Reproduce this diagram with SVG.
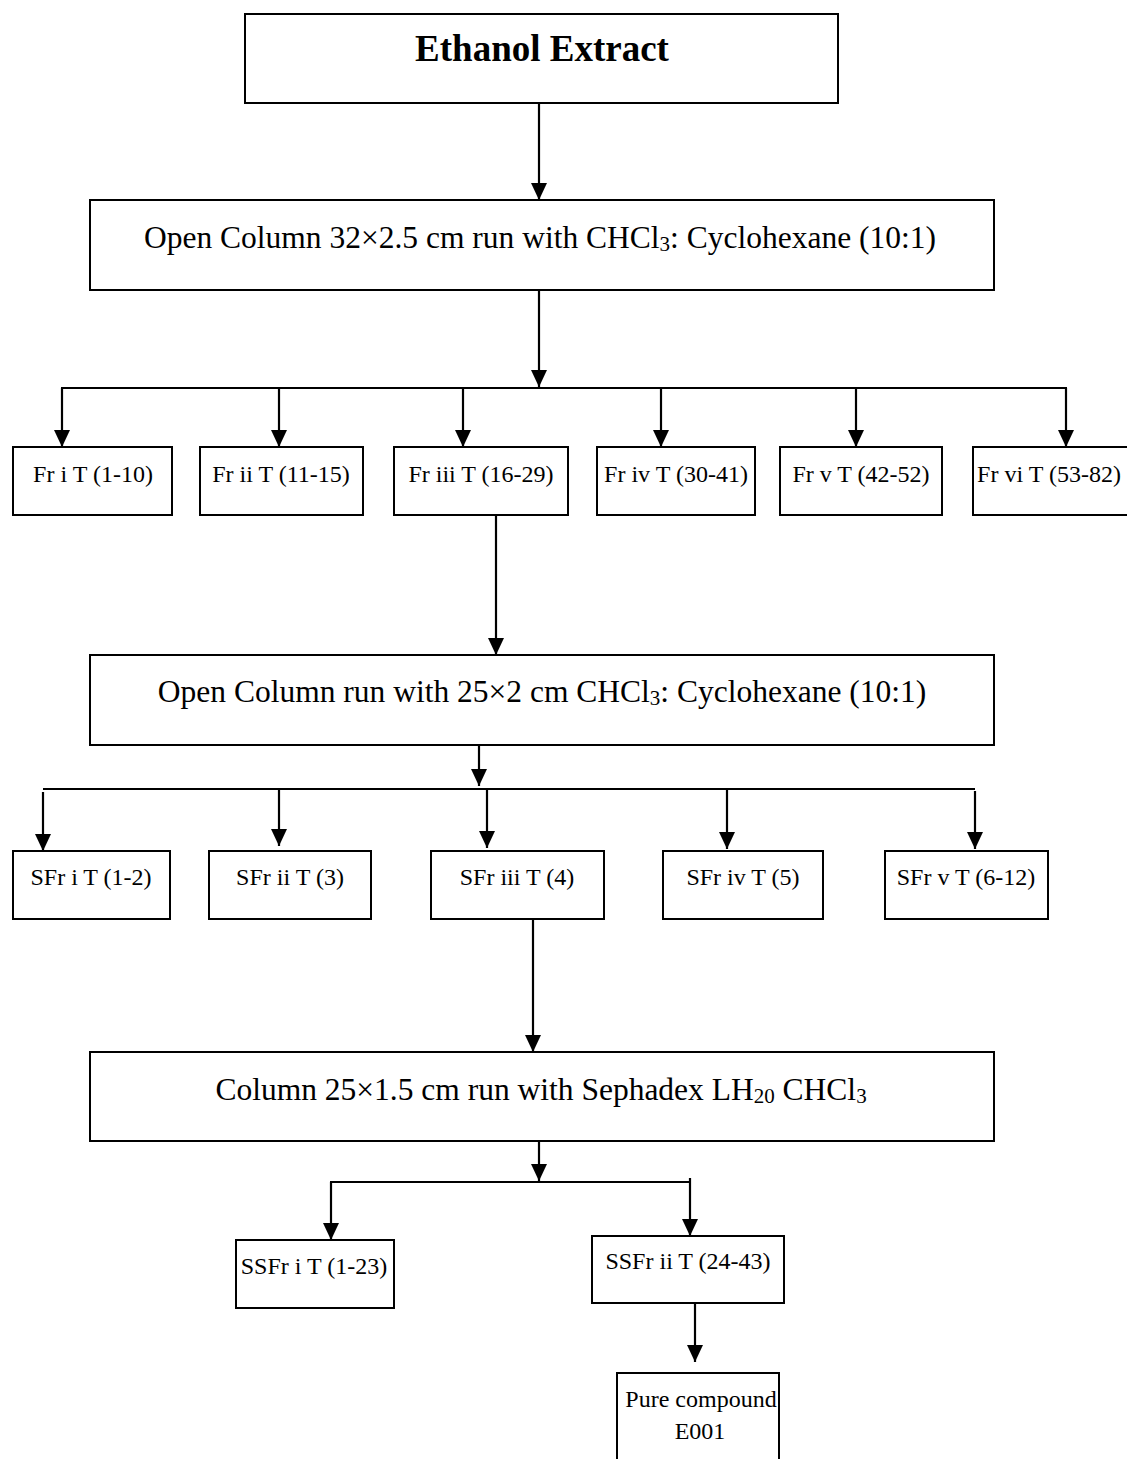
<svg xmlns="http://www.w3.org/2000/svg" width="1127" height="1459" viewBox="0 0 1127 1459">
<defs>
<marker id="ah" markerUnits="userSpaceOnUse" markerWidth="18" markerHeight="16" refX="17" refY="8" orient="auto">
<path d="M0,0 L17,8 L0,16 z" fill="#000"/>
</marker>
<style>
rect{fill:#fff;stroke:#000;stroke-width:2}
text{font-family:"Liberation Serif","Times New Roman",serif;fill:#000}
.big{font-size:31.5px}
.sm{font-size:24px}
.title{font-size:37px;font-weight:bold}
.c line,.c path{stroke:#000;stroke-width:2.2;fill:none}
.a{marker-end:url(#ah)}
</style>
</defs>
<rect x="0" y="0" width="1127" height="1459" style="fill:#fff;stroke:none"/>
<g class="c" id="connectors">
<line class="a" x1="539" y1="103" x2="539" y2="200"/>
<line class="a" x1="539" y1="290" x2="539" y2="387"/>
<line x1="61" y1="388" x2="1067" y2="388"/>
<line class="a" x1="62" y1="388" x2="62" y2="447"/>
<line class="a" x1="279" y1="388" x2="279" y2="447"/>
<line class="a" x1="463" y1="388" x2="463" y2="447"/>
<line class="a" x1="661" y1="388" x2="661" y2="447"/>
<line class="a" x1="856" y1="388" x2="856" y2="447"/>
<line class="a" x1="1066" y1="388" x2="1066" y2="447"/>
<line class="a" x1="496" y1="515" x2="496" y2="655"/>
<line class="a" x1="479" y1="745" x2="479" y2="786"/>
<line x1="43" y1="789" x2="975" y2="789"/>
<line class="a" x1="43" y1="792" x2="43" y2="851"/>
<line class="a" x1="279" y1="789" x2="279" y2="846"/>
<line class="a" x1="487" y1="789" x2="487" y2="848"/>
<line class="a" x1="727" y1="789" x2="727" y2="849"/>
<line class="a" x1="975" y1="791" x2="975" y2="849"/>
<line class="a" x1="533" y1="919" x2="533" y2="1052"/>
<line class="a" x1="539" y1="1141" x2="539" y2="1181"/>
<line x1="330" y1="1182" x2="690" y2="1182"/>
<line class="a" x1="331" y1="1182" x2="331" y2="1240"/>
<line class="a" x1="690" y1="1178" x2="690" y2="1236"/>
<line class="a" x1="695" y1="1303" x2="695" y2="1362"/>
</g>
<g id="n-ethanol">
<rect x="245" y="14" width="593" height="89"/>
<text class="title" x="542" y="61" text-anchor="middle">Ethanol Extract</text>
</g>
<g id="n-col1">
<rect x="90" y="200" width="904" height="90"/>
<text class="big" x="540" y="248" text-anchor="middle">Open Column 32×2.5 cm run with CHCl<tspan font-size="21" dy="3">3</tspan><tspan dy="-3">: Cyclohexane (10:1)</tspan></text>
</g>
<g id="n-fr1"><rect x="13" y="447" width="159" height="68"/><text class="sm" x="93" y="482" text-anchor="middle">Fr i T (1-10)</text></g>
<g id="n-fr2"><rect x="200" y="447" width="163" height="68"/><text class="sm" x="281" y="482" text-anchor="middle">Fr ii T (11-15)</text></g>
<g id="n-fr3"><rect x="394" y="447" width="174" height="68"/><text class="sm" x="481" y="482" text-anchor="middle">Fr iii T (16-29)</text></g>
<g id="n-fr4"><rect x="597" y="447" width="158" height="68"/><text class="sm" x="676" y="482" text-anchor="middle">Fr iv T (30-41)</text></g>
<g id="n-fr5"><rect x="780" y="447" width="162" height="68"/><text class="sm" x="861" y="482" text-anchor="middle">Fr v T (42-52)</text></g>
<g id="n-fr6"><rect x="973" y="447" width="160" height="68"/><text class="sm" x="1049" y="482" text-anchor="middle">Fr vi T (53-82)</text></g>
<g id="n-col2">
<rect x="90" y="655" width="904" height="90"/>
<text class="big" x="542" y="702" text-anchor="middle">Open Column run with 25×2 cm CHCl<tspan font-size="21" dy="3">3</tspan><tspan dy="-3">: Cyclohexane (10:1)</tspan></text>
</g>
<g id="n-sfr1"><rect x="13" y="851" width="157" height="68"/><text class="sm" x="91" y="885" text-anchor="middle">SFr i T (1-2)</text></g>
<g id="n-sfr2"><rect x="209" y="851" width="162" height="68"/><text class="sm" x="290" y="885" text-anchor="middle">SFr ii T (3)</text></g>
<g id="n-sfr3"><rect x="431" y="851" width="173" height="68"/><text class="sm" x="517" y="885" text-anchor="middle">SFr iii T (4)</text></g>
<g id="n-sfr4"><rect x="663" y="851" width="160" height="68"/><text class="sm" x="743" y="885" text-anchor="middle">SFr iv T (5)</text></g>
<g id="n-sfr5"><rect x="885" y="851" width="163" height="68"/><text class="sm" x="966" y="885" text-anchor="middle">SFr v T (6-12)</text></g>
<g id="n-col3">
<rect x="90" y="1052" width="904" height="89"/>
<text class="big" x="541" y="1100" text-anchor="middle">Column 25×1.5 cm run with Sephadex LH<tspan font-size="21" dy="3">20</tspan><tspan dy="-3"> CHCl</tspan><tspan font-size="21" dy="3">3</tspan></text>
</g>
<g id="n-ssfr1"><rect x="236" y="1240" width="158" height="68"/><text class="sm" x="314" y="1274" text-anchor="middle">SSFr i T (1-23)</text></g>
<g id="n-ssfr2"><rect x="592" y="1236" width="192" height="67"/><text class="sm" x="688" y="1269" text-anchor="middle">SSFr ii T (24-43)</text></g>
<g id="n-pure">
<path d="M617,1470 L617,1373 L779,1373 L779,1470" style="fill:#fff;stroke:#000;stroke-width:2"/>
<text class="sm" x="701" y="1407" text-anchor="middle">Pure compound</text>
<text class="sm" x="700" y="1439" text-anchor="middle">E001</text>
</g>
</svg>
